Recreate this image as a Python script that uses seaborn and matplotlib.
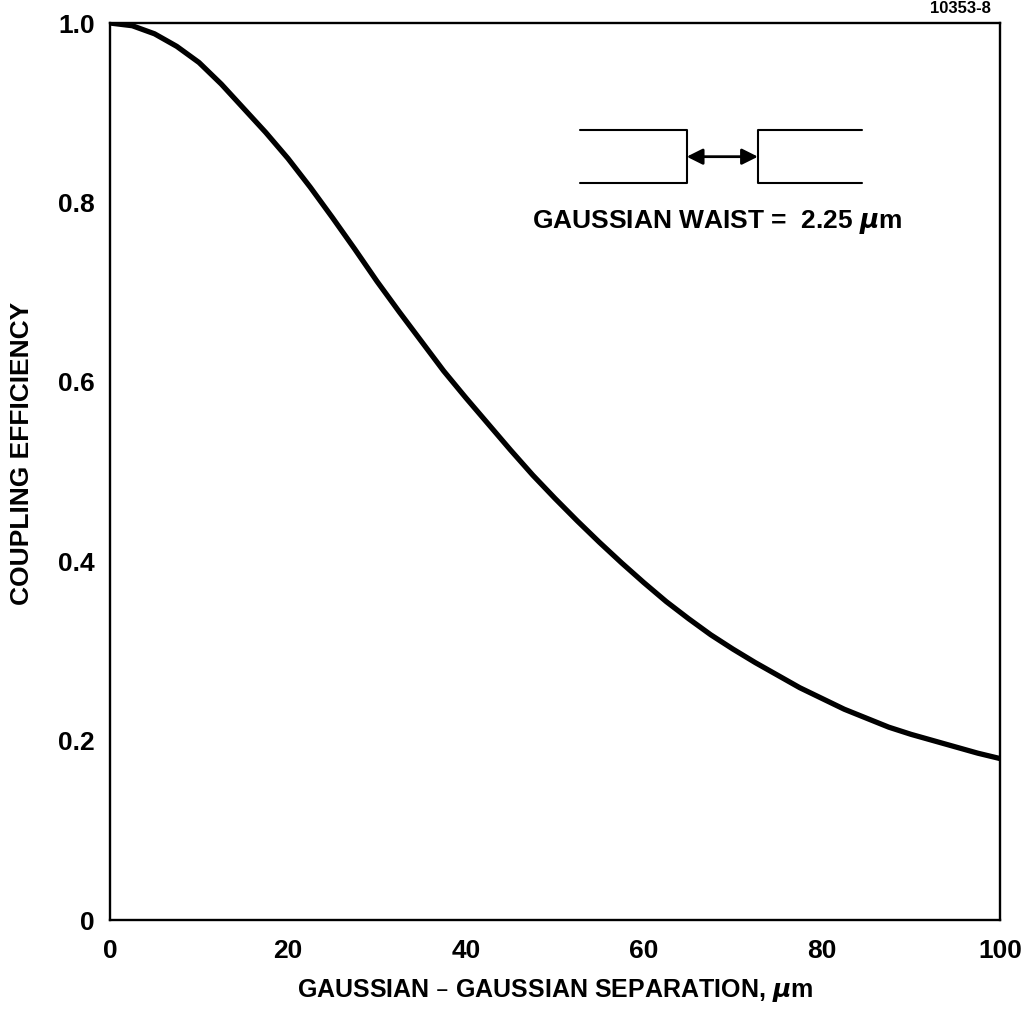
import numpy as np
import pandas as pd
import matplotlib
matplotlib.use("Agg")
import matplotlib.pyplot as plt
import seaborn as sns

# values
separation_um = [0, 2.5, 5, 7.5, 10, 12.5, 15, 17.5, 20, 22.5, 25, 27.5, 30,
                 32.5, 35, 37.5, 40, 42.5, 45, 47.5, 50, 52.5, 55, 57.5, 60,
                 62.5, 65, 67.5, 70, 72.5, 75, 77.5, 80, 82.5, 85, 87.5, 90,
                 92.5, 95, 97.5, 100]
coupling_eff = [1.0, 0.997, 0.988, 0.974, 0.956, 0.932, 0.905, 0.878, 0.849,
                0.817, 0.783, 0.748, 0.712, 0.678, 0.645, 0.612, 0.582, 0.553,
                0.524, 0.496, 0.470, 0.445, 0.421, 0.398, 0.376, 0.355, 0.336,
                0.318, 0.302, 0.287, 0.273, 0.259, 0.247, 0.235, 0.225, 0.215,
                0.207, 0.200, 0.193, 0.186, 0.180]
x_ticks = [0, 20, 40, 60, 80, 100]
y_ticks = [0, 0.2, 0.4, 0.6, 0.8, 1.0]
y_tick_labels = ["0", "0.2", "0.4", "0.6", "0.8", "1.0"]

df = pd.DataFrame({"sep": separation_um, "eff": coupling_eff})

sns.set_style("white")
plt.rcParams['font.family'] = ['Liberation Sans', 'DejaVu Sans']
plt.rcParams['font.weight'] = 'bold'
plt.rcParams['text.color'] = 'black'
plt.rcParams['axes.labelcolor'] = 'black'

fig = plt.figure(figsize=(10.27, 10.10), dpi=100)
ax = fig.add_axes([0.1071, 0.0891, 0.8666, 0.8881])

sns.lineplot(ax=ax, data=df, x="sep", y="eff", color="black", linewidth=3.8)
ax.lines[0].set_solid_joinstyle("round")

ax.set_xlim(0, 100)
ax.set_ylim(0, 1.0)
ax.set_xticks(x_ticks)
ax.set_xticklabels([str(t) for t in x_ticks])
ax.set_yticks(y_ticks)
ax.set_yticklabels(y_tick_labels)
ax.tick_params(axis="both", direction="in", length=8, width=1.8,
               labelsize=19, colors="black")
ax.tick_params(axis="x", pad=14)
ax.tick_params(axis="y", pad=11)
for lbl in ax.get_xticklabels() + ax.get_yticklabels():
    lbl.set_fontweight("bold")
for sp in ax.spines.values():
    sp.set_color("black")
    sp.set_linewidth(1.7)

ax.set_xlabel("GAUSSIAN \u2013 GAUSSIAN SEPARATION, $\\mu$m", fontsize=18,
              fontweight="bold", labelpad=10)
ax.set_ylabel("COUPLING EFFICIENCY", fontsize=19, fontweight="bold",
              labelpad=13)
ax.yaxis.set_label_coords(-0.085, 0.52)

# schematic inset: two guides facing each other with a double arrow
tr = ax.transAxes
lw = 1.5
ax.plot([0.528, 0.648, 0.648, 0.528], [0.881, 0.881, 0.822, 0.822],
        color="black", lw=lw, transform=tr)
ax.plot([0.845, 0.728, 0.728, 0.845], [0.881, 0.881, 0.822, 0.822],
        color="black", lw=lw, transform=tr)
ax.annotate("", xy=(0.648, 0.851), xytext=(0.728, 0.851), xycoords=tr,
            textcoords=tr,
            arrowprops=dict(arrowstyle="<|-|>", color="black", lw=2.0,
                            mutation_scale=24, shrinkA=0, shrinkB=0))
ax.text(0.682, 0.778, "GAUSSIAN WAIST =  2.25 $\\mu$m", transform=tr,
        ha="center", va="center", fontsize=19, fontweight="bold")

fig.text(0.935, 0.999, "10353-8", ha="center", va="top", fontsize=12,
         fontweight="bold")

fig.savefig("out.png", dpi=100)
